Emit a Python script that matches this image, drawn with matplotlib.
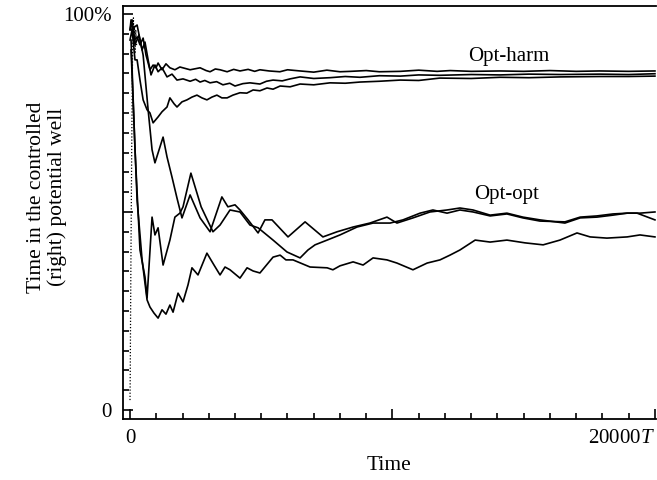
import matplotlib
matplotlib.use("Agg")
import matplotlib.pyplot as plt
from matplotlib.ticker import MultipleLocator

plt.rcParams['font.family'] = ['Liberation Serif', 'DejaVu Serif']
plt.rcParams['mathtext.fontset'] = 'custom'
plt.rcParams['mathtext.rm'] = 'Liberation Serif'
plt.rcParams['mathtext.it'] = 'Liberation Serif:italic'

# time in units of T, value = % of time spent in the right well
# opt-harm runs
h1_t = [0, 40, 150, 270, 380, 500, 610, 760, 880, 990, 1070, 1220, 1370, 1520, 1710, 1900, 2290, 2670, 2900, 3050,
        3250, 3430, 3700, 3950, 4190, 4500, 4750, 4950, 5300, 5710, 6000, 6480, 7000, 7500, 8000, 8400, 9000, 9500,
        10300, 11000, 11700, 12200, 13000, 14100, 15000, 16000, 17000, 17900, 19000, 20000]
h1_y = [96.0, 98.5, 93.4, 94.2, 92.2, 93.9, 89.6, 85.9, 87.1, 86.4, 87.6, 85.9, 87.4, 86.4, 85.9, 86.6, 85.9, 86.4, 85.7, 85.4,
        86.1, 85.9, 85.4, 86.0, 85.6, 86.0, 85.5, 85.9, 85.6, 85.4, 85.9, 85.6, 85.3, 85.8, 85.4, 85.5, 85.7, 85.4,
        85.5, 85.8, 85.5, 85.7, 85.5, 85.6, 85.5, 85.7, 85.5, 85.6, 85.5, 85.6]

h2_t = [0, 80, 190, 340, 460, 570, 690, 800, 950, 1070, 1220, 1410, 1600, 1790, 2020, 2290, 2500, 2670, 2850, 3050,
        3300, 3540, 3800, 4000, 4300, 4570, 4950, 5200, 5450, 5800, 6100, 6480, 7000, 7620, 8200, 8760, 9500, 10300,
        11000, 11800, 13000, 14100, 15200, 16400, 17900, 19000, 20000]
h2_y = [96.0, 98.5, 92.2, 94.7, 90.9, 92.9, 88.4, 84.6, 87.1, 85.4, 86.4, 84.1, 84.8, 83.3, 83.6, 83.0, 83.5, 82.8, 83.2, 82.6,
        82.9, 82.1, 82.5, 81.8, 82.4, 82.6, 82.3, 83.0, 83.3, 83.1, 83.6, 84.1, 83.7, 83.9, 84.2, 84.0, 84.4, 84.3,
        84.6, 84.5, 84.7, 84.6, 84.8, 84.7, 84.8, 84.7, 84.9]

h3_t = [0, 80, 190, 270, 380, 500, 650, 760, 880, 1070, 1220, 1410, 1520, 1680, 1790, 1980, 2170, 2360, 2550, 2740,
        2930, 3120, 3310, 3500, 3700, 3920, 4190, 4450, 4690, 4950, 5220, 5450, 5720, 6100, 6480, 7000, 7620, 8200,
        8760, 9500, 10300, 11000, 11800, 13000, 14100, 15200, 16400, 17900, 19000, 20000]
h3_y = [93.4, 96.0, 88.4, 88.4, 83.3, 78.3, 75.8, 75.0, 72.5, 74.0, 75.3, 76.5, 78.8, 77.3, 76.5, 77.8, 78.3, 79.0, 79.5, 78.8,
        78.3, 79.0, 79.5, 78.8, 78.8, 79.5, 80.1, 80.0, 80.8, 80.6, 81.3, 81.0, 81.8, 81.6, 82.3, 82.1, 82.6, 82.5,
        82.8, 83.0, 83.3, 83.2, 83.8, 83.7, 84.0, 83.9, 84.1, 84.2, 84.2, 84.3]

# opt-opt runs
a_t = [40, 270, 500, 690, 840, 950, 1260, 1410, 1600, 1790, 1980, 2290, 2670, 3050, 3500, 3730, 4000, 4190, 4500, 4880,
       5140, 5410, 6020, 6670, 7350, 7890, 8500, 9140, 9790, 10170, 10780, 11430, 12080, 12570, 13070, 13720, 14360,
       14970, 15620, 16570, 17150, 17790, 18400, 18940, 19430, 20000]
a_y = [96.0, 97.2, 89.6, 75.8, 65.7, 62.4, 68.9, 63.9, 58.8, 53.5, 48.5, 54.3, 48.5, 45.0, 53.8, 51.3, 51.8, 50.5, 48.0, 44.7,
       48.0, 48.0, 43.7, 47.5, 43.7, 45.0, 46.2, 47.2, 48.7, 47.2, 48.5, 50.0, 50.5, 51.0, 50.5, 49.2, 49.7,
       48.7, 48.0, 47.2, 48.5, 48.7, 49.2, 49.7, 49.7, 50.0]

b_t = [40, 190, 380, 570, 650, 840, 950, 1070, 1260, 1520, 1710, 1900, 2020, 2320, 2710, 3160, 3430, 3810, 4190, 4570,
       4880, 5450, 5980, 6480, 6780, 7050, 7510, 8000, 8650, 9260, 9910, 10400, 11050, 11540, 12080, 12570, 13070,
       13720, 14360, 14970, 15620, 16570, 17150, 17790, 18400, 18940, 19320, 20000]
b_y = [93.4, 65.7, 40.4, 33.6, 28.3, 48.7, 44.2, 46.0, 36.6, 42.9, 48.7, 49.7, 51.3, 59.8, 51.3, 45.0, 46.7, 50.5, 50.0, 46.7,
       46.0, 42.9, 39.9, 38.4, 40.4, 41.7, 42.9, 44.2, 46.2, 47.2, 47.2, 48.0, 49.7, 50.5, 49.7, 50.5, 50.0,
       49.0, 49.5, 48.5, 47.7, 47.5, 48.7, 49.0, 49.5, 49.7, 49.7, 48.0]

g_t = [40, 270, 460, 650, 760, 910, 1070, 1220, 1370, 1520, 1640, 1830, 2020, 2210, 2360, 2590, 2930, 3200, 3430, 3620,
       3810, 4190, 4460, 4690, 4950, 5450, 5720, 5940, 6210, 6860, 7510, 7730, 8000, 8500, 8880, 9260, 9790, 10170,
       10780, 11320, 11810, 12190, 12570, 13150, 13720, 14360, 15050, 15740, 16380, 17030, 17530, 18170, 18940, 19430, 20000]
g_y = [90.9, 53.0, 37.9, 27.8, 26.0, 24.5, 23.2, 25.3, 24.2, 26.5, 24.7, 29.5, 27.3, 31.6, 35.9, 34.1, 39.6, 36.6, 34.1, 36.1,
       35.4, 33.3, 35.9, 35.1, 34.6, 38.6, 39.1, 37.9, 37.9, 36.1, 35.9, 35.4, 36.4, 37.4, 36.6, 38.4, 37.9, 37.1,
       35.4, 37.1, 37.9, 39.1, 40.4, 42.9, 42.4, 42.9, 42.2, 41.7, 42.9, 44.7, 43.7, 43.4, 43.7, 44.2, 43.7]

# start-up transient (drawn dotted)
r_t = [0, 10, 20, 35, 50, 65, 80, 95, 110, 130, 150, 170, 190, 220, 250]
r_y = [2.5, 10, 22, 38, 52, 66, 78, 88, 95, 99, 93, 97, 90, 96, 92]

fig = plt.figure(figsize=(6.57, 4.8), dpi=100)
ax = fig.add_axes([123/657, 1-419/480, 533/657, 413/480])

ax.plot(r_t, r_y, color='black', lw=0.9, ls=(0, (1, 1.5)))
for t, y in [(h1_t, h1_y), (h2_t, h2_y), (h3_t, h3_y), (a_t, a_y), (b_t, b_y), (g_t, g_y)]:
    ax.plot(t, y, color='black', lw=1.2)

ax.set_xlim(-267, 20040)
ax.set_ylim(-2.27, 102.0)

ax.spines['right'].set_visible(False)
for s in ['left', 'bottom', 'top']:
    ax.spines[s].set_linewidth(1.3)

ax.set_xticks([0, 10000, 20000], ['0', '', '20000$T$'])
ax.set_yticks([0, 50, 100], ['0', '', '100%'])
ax.xaxis.set_minor_locator(MultipleLocator(1000))
ax.yaxis.set_minor_locator(MultipleLocator(5))
ax.tick_params(which='both', direction='in', width=1.2, labelsize=15)
ax.tick_params(which='major', length=7)
ax.tick_params(which='minor', length=4)
ax.tick_params(axis='x', pad=7)
ax.tick_params(axis='y', pad=8)
ax.get_xticklabels()[-1].set_ha('right')

ax.text(14440, 88.1, 'Opt-harm', fontsize=15, ha='center', va='baseline')
ax.text(14360, 53.3, 'Opt-opt', fontsize=15, ha='center', va='baseline')

fig.text(389/657, 1-465/480, 'Time', fontsize=15.5, ha='center', va='center')
fig.text(47/657, 1-197/480, 'Time in the controlled\n(right) potential well', fontsize=15.5,
         rotation=90, ha='center', va='center', multialignment='center', linespacing=1.1)

fig.savefig('out.png', dpi=100)
